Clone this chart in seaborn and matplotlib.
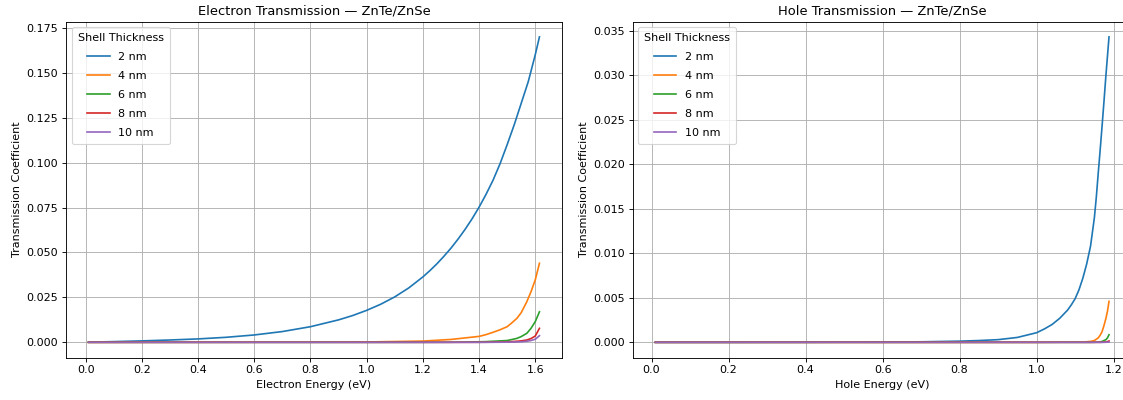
import matplotlib
matplotlib.use("Agg")
import matplotlib.pyplot as plt
import seaborn as sns
import pandas as pd

# shell thicknesses (legend labels)
shells = ["2 nm", "4 nm", "6 nm", "8 nm", "10 nm"]

# electron transmission
e_energy_2 = [0.01, 0.1, 0.2, 0.3, 0.4, 0.5, 0.6, 0.7, 0.8, 0.9, 0.95, 1.0, 1.05, 1.1, 1.15,
              1.2, 1.225, 1.25, 1.275, 1.3, 1.325, 1.35, 1.375, 1.4, 1.425, 1.45, 1.475,
              1.5, 1.525, 1.55, 1.575, 1.6, 1.615]
e_trans_2 = [0.0001, 0.0004, 0.0008, 0.0013, 0.0019, 0.0028, 0.0041, 0.0060, 0.0087, 0.0125,
             0.0149, 0.0178, 0.0212, 0.0253, 0.0303, 0.0364, 0.0399, 0.0437, 0.0479, 0.0524,
             0.0574, 0.0628, 0.0687, 0.0752, 0.0824, 0.0903, 0.0995, 0.110, 0.121, 0.133,
             0.145, 0.160, 0.170]
e_energy_thick = [0.01, 0.8, 1.0, 1.2, 1.3, 1.4, 1.425, 1.45, 1.475, 1.5, 1.515, 1.535, 1.55,
                  1.57, 1.585, 1.6, 1.615]
e_trans_4 = [0, 0.0001, 0.0002, 0.0007, 0.0016, 0.0033, 0.0043, 0.0056, 0.0070, 0.0087,
             0.0106, 0.0134, 0.0165, 0.0226, 0.0282, 0.0347, 0.0440]
e_trans_6 = [0, 0, 0, 0.00002, 0.00005, 0.0003, 0.0004, 0.0006, 0.0008, 0.0010, 0.0015,
             0.0022, 0.0032, 0.0050, 0.0078, 0.0115, 0.0170]
e_trans_8 = [0, 0, 0, 0, 0, 0.00003, 0.00006, 0.0001, 0.0002, 0.0003, 0.0004, 0.0006,
             0.0008, 0.0013, 0.0021, 0.0035, 0.0078]
e_trans_10 = [0, 0, 0, 0, 0, 0, 0.00001, 0.00003, 0.00006, 0.0001, 0.00015, 0.0002,
              0.0003, 0.0006, 0.0010, 0.0017, 0.0037]

# hole transmission
h_energy_2 = [0.01, 0.2, 0.4, 0.6, 0.7, 0.8, 0.85, 0.9, 0.95, 1.0, 1.02, 1.04, 1.06, 1.08,
              1.09, 1.1, 1.11, 1.12, 1.13, 1.14, 1.15, 1.155, 1.16, 1.165, 1.17, 1.175,
              1.18, 1.188]
h_trans_2 = [0, 0, 0.00001, 0.00003, 0.00006, 0.00013, 0.0002, 0.0003, 0.00055, 0.00108,
             0.0015, 0.0020, 0.0027, 0.0036, 0.0042, 0.0049, 0.0059, 0.0072, 0.0088, 0.0108,
             0.0140, 0.0163, 0.0190, 0.0216, 0.0243, 0.0271, 0.0300, 0.0343]
h_energy_thick = [0.01, 1.0, 1.12, 1.14, 1.15, 1.16, 1.165, 1.17, 1.175, 1.18, 1.184, 1.188]
h_trans_4 = [0, 0, 0.00003, 0.0001, 0.0002, 0.0005, 0.0008, 0.0012, 0.0019, 0.0027, 0.0035, 0.0046]
h_trans_6 = [0, 0, 0, 0, 0.00001, 0.00003, 0.00005, 0.0001, 0.0002, 0.0003, 0.0005, 0.00085]
h_trans_8 = [0, 0, 0, 0, 0, 0, 0, 0.00001, 0.00002, 0.00004, 0.00008, 0.00015]
h_trans_10 = [0, 0, 0, 0, 0, 0, 0, 0, 0, 0.00001, 0.00002, 0.00003]


def to_long(energies, values):
    rows = []
    for lab, en, tr in zip(shells, energies, values):
        for e, t in zip(en, tr):
            rows.append({"energy": e, "T": t, "shell": lab})
    return pd.DataFrame(rows)


df_e = to_long([e_energy_2] + [e_energy_thick] * 4,
               [e_trans_2, e_trans_4, e_trans_6, e_trans_8, e_trans_10])
df_h = to_long([h_energy_2] + [h_energy_thick] * 4,
               [h_trans_2, h_trans_4, h_trans_6, h_trans_8, h_trans_10])

colors = sns.color_palette("tab10", 5)

fig = plt.figure(figsize=(1123 / 80, 400 / 80), dpi=80)
ax1 = fig.add_axes([66 / 1123, 0.106, 496 / 1123, 0.84])
ax2 = fig.add_axes([632.7 / 1123, 0.106, 499 / 1123, 0.84])

for ax, df, title, xlabel in [
    (ax1, df_e, "Electron Transmission — ZnTe/ZnSe", "Electron Energy (eV)"),
    (ax2, df_h, "Hole Transmission — ZnTe/ZnSe", "Hole Energy (eV)"),
]:
    sns.lineplot(data=df, x="energy", y="T", hue="shell", hue_order=shells,
                 palette=colors, estimator=None, linewidth=1.5, ax=ax)
    ax.set_title(title, fontsize=11.7)
    ax.set_xlabel(xlabel)
    ax.set_ylabel("Transmission Coefficient")
    ax.grid(True)
    ax.legend(title="Shell Thickness", loc="upper left", labelspacing=0.8, borderpad=0.55)

fig.savefig("out.png", dpi=80)
